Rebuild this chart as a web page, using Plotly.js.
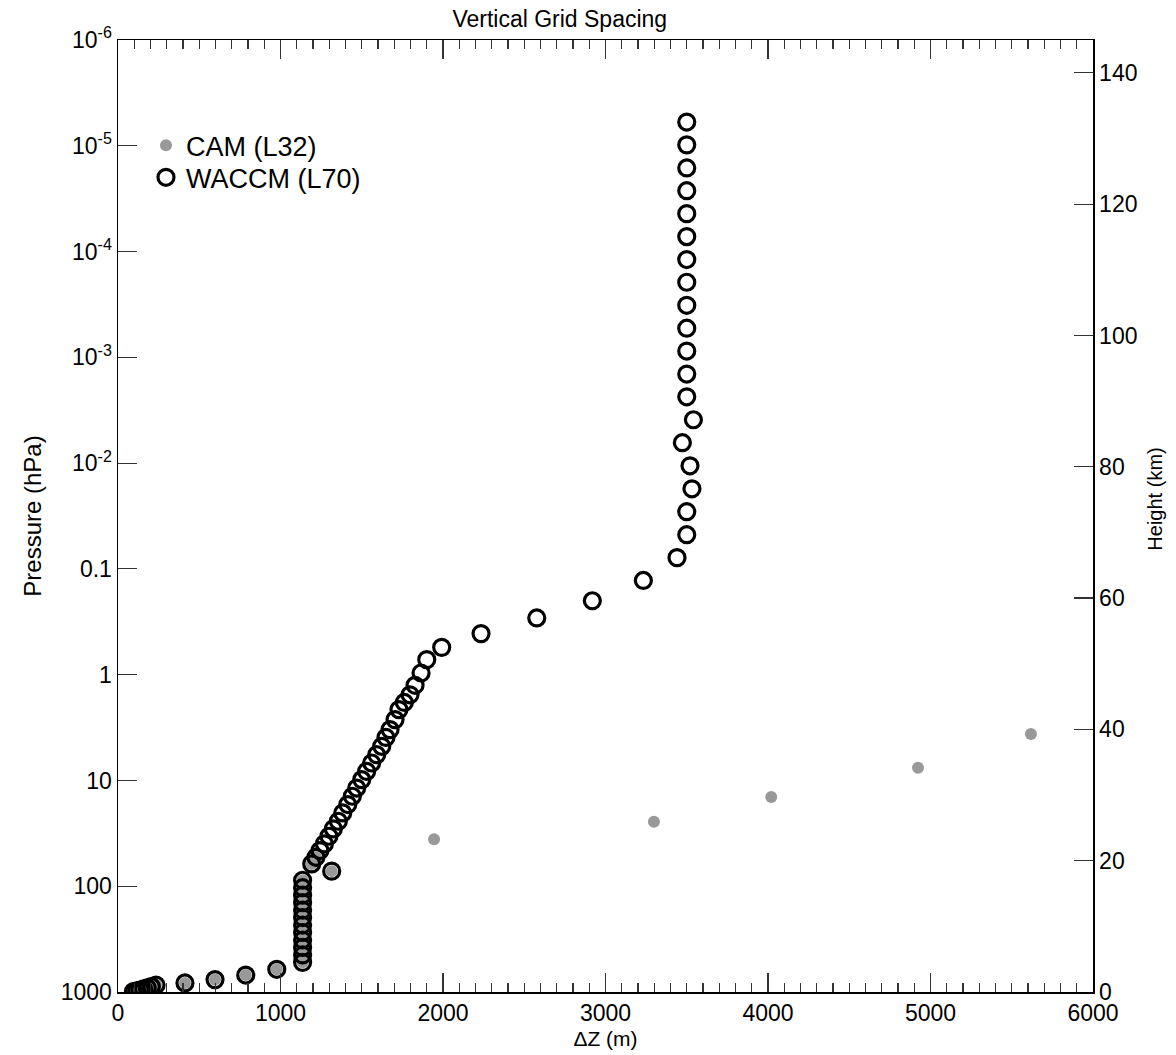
<!DOCTYPE html>
<html>
<head>
<meta charset="utf-8">
<script src="https://cdn.plot.ly/plotly-3.0.1.min.js"></script>
<style>
html,body{margin:0;padding:0;background:#fff;}
#chart{width:1176px;height:1055px;}
</style>
</head>
<body>
<div id="chart"></div>
<script>
// CAM (L32): pressure (hPa) and layer thickness dZ (m)
var camPressure = [3.64, 7.59, 14.36, 24.61, 35.9, 53.3, 61.5, 72.0,
  87.82, 103.32, 121.55, 142.99, 168.23, 197.91, 232.83, 273.91, 322.24, 379.1, 445.99, 524.69,
  609.78, 691.39, 763.4, 820.86, 859.53, 887.02, 912.64, 936.2, 957.49, 976.33, 992.56];
var camDz = [5618, 4923, 4020, 3298, 1945, 1218, 1192, 1315,
  1136, 1136, 1136, 1136, 1136, 1136, 1136, 1136, 1136, 1136, 1136, 1136,
  977, 786, 597, 412, 234, 205, 180, 158, 135, 115, 95];

// WACCM (L70): pressure (hPa) and layer thickness dZ (m)
var waccmPressure = [5.97e-6, 9.8e-6, 1.62e-5, 2.66e-5, 4.38e-5, 7.22e-5, 1.19e-4, 1.95e-4, 3.22e-4, 5.30e-4,
  8.72e-4, 1.44e-3, 2.36e-3, 3.89e-3, 6.41e-3, 1.06e-2, 1.75e-2, 2.88e-2, 4.75e-2, 7.83e-2,
  0.1286, 0.2, 0.291, 0.409, 0.552, 0.721, 0.964, 1.26, 1.55,
  1.83, 2.14, 2.66, 3.31, 3.92, 4.76, 5.71, 6.84, 8.21, 9.83, 11.8, 14.1, 16.9, 20.3, 24.3, 28.7, 33.7, 39.8, 46.0,
  53.3, 61.5, 72.0,
  87.82, 103.32, 121.55, 142.99, 168.23, 197.91, 232.83, 273.91, 322.24, 379.1, 445.99, 524.69,
  609.78, 691.39, 763.4, 820.86, 859.53, 887.02, 912.64, 936.2, 957.49, 976.33, 992.56];
var waccmDz = [3500, 3500, 3500, 3500, 3500, 3500, 3500, 3500, 3500, 3500,
  3500, 3500, 3500, 3541, 3473, 3520, 3532, 3500, 3500, 3440,
  3233, 2919, 2577, 2234, 1992, 1900, 1865, 1828, 1797,
  1762, 1729, 1705, 1674, 1649, 1623, 1592, 1561, 1530, 1500, 1469, 1442, 1414, 1383, 1356, 1325, 1298, 1270, 1243,
  1218, 1192, 1315,
  1136, 1136, 1136, 1136, 1136, 1136, 1136, 1136, 1136, 1136, 1136, 1136,
  977, 786, 597, 412, 234, 205, 180, 158, 135, 115, 95];

var pressureTicks = [1e-6, 1e-5, 1e-4, 1e-3, 1e-2, 0.1, 1, 10, 100, 1000];
var pressureTickText = ['10<sup>-6</sup>', '10<sup>-5</sup>', '10<sup>-4</sup>', '10<sup>-3</sup>', '10<sup>-2</sup>',
  '0.1', '1', '10', '100', '1000'];
var heightRange = [0, 145];
var dzRange = [0, 6000];

var font = 'Liberation Sans, Arial, Helvetica, sans-serif';

var traces = [
  {
    type: 'scatter', mode: 'markers', name: 'CAM (L32)', legend: 'legend',
    x: camDz, y: camPressure,
    marker: {symbol: 'circle', size: 12, color: '#999999', line: {width: 0}}
  },
  {
    type: 'scatter', mode: 'markers', name: 'WACCM (L70)', legend: 'legend2',
    x: waccmDz, y: waccmPressure,
    marker: {symbol: 'circle-open', size: 16, color: '#000000', line: {width: 3.2, color: '#000000'}}
  },
  {
    type: 'scatter', mode: 'markers', x: [], y: [], yaxis: 'y2',
    showlegend: false, hoverinfo: 'skip'
  }
];

var legendCommon = {
  xanchor: 'left', yanchor: 'middle',
  bgcolor: 'rgba(0,0,0,0)', borderwidth: 0,
  font: {family: font, size: 27, color: '#000'},
  itemwidth: 30, tracegroupgap: 0
};

var layout = {
  width: 1176, height: 1055,
  margin: {l: 118, r: 83, t: 40, b: 63},
  paper_bgcolor: '#ffffff', plot_bgcolor: '#ffffff',
  font: {family: font, size: 23, color: '#000000'},
  showlegend: true,
  title: {text: 'Vertical Grid Spacing', font: {family: font, size: 23, color: '#000'},
    x: 0.476, xref: 'container', xanchor: 'center', y: 0.982, yref: 'container', yanchor: 'middle'},
  xaxis: {
    range: dzRange, dtick: 1000, tick0: 0,
    showgrid: false, zeroline: false,
    showline: true, linecolor: '#000', linewidth: 1.5, mirror: 'ticks',
    ticks: 'inside', ticklen: 19, tickwidth: 1.2, tickcolor: '#333',
    minor: {dtick: 100, ticks: 'inside', ticklen: 9, tickwidth: 1.2, tickcolor: '#333', showgrid: false},
    tickfont: {family: font, size: 23, color: '#000'},
    title: {text: 'ΔZ (m)', font: {family: font, size: 21, color: '#000'}, standoff: 6}
  },
  yaxis: {
    type: 'log', range: [3, -6],
    tickvals: pressureTicks, ticktext: pressureTickText, tickmode: 'array',
    showgrid: false, zeroline: false,
    showline: true, linecolor: '#000', linewidth: 1.5,
    ticks: 'inside', ticklen: 19, tickwidth: 1.2, tickcolor: '#333',
    tickfont: {family: font, size: 23, color: '#000'},
    title: {text: 'Pressure (hPa)', font: {family: font, size: 24, color: '#000'}, standoff: 12}
  },
  yaxis2: {
    overlaying: 'y', side: 'right', anchor: 'x',
    range: heightRange, dtick: 20, tick0: 0,
    showgrid: false, zeroline: false,
    showline: true, linecolor: '#000', linewidth: 1.5,
    ticks: 'inside', ticklen: 19, tickwidth: 1.2, tickcolor: '#333',
    tickfont: {family: font, size: 23, color: '#000'}
  },
  annotations: [
    {text: 'Height (km)', textangle: -90, showarrow: false,
     xref: 'paper', yref: 'paper', x: 1.0636, y: 0.5172, xanchor: 'center', yanchor: 'middle',
     font: {family: font, size: 20, color: '#000'}}
  ],
  legend: Object.assign({x: 0.0287, y: 0.8889}, legendCommon),
  legend2: Object.assign({x: 0.0287, y: 0.8553}, legendCommon)
};

Plotly.newPlot('chart', traces, layout, {displayModeBar: false, staticPlot: true});
</script>
</body>
</html>
